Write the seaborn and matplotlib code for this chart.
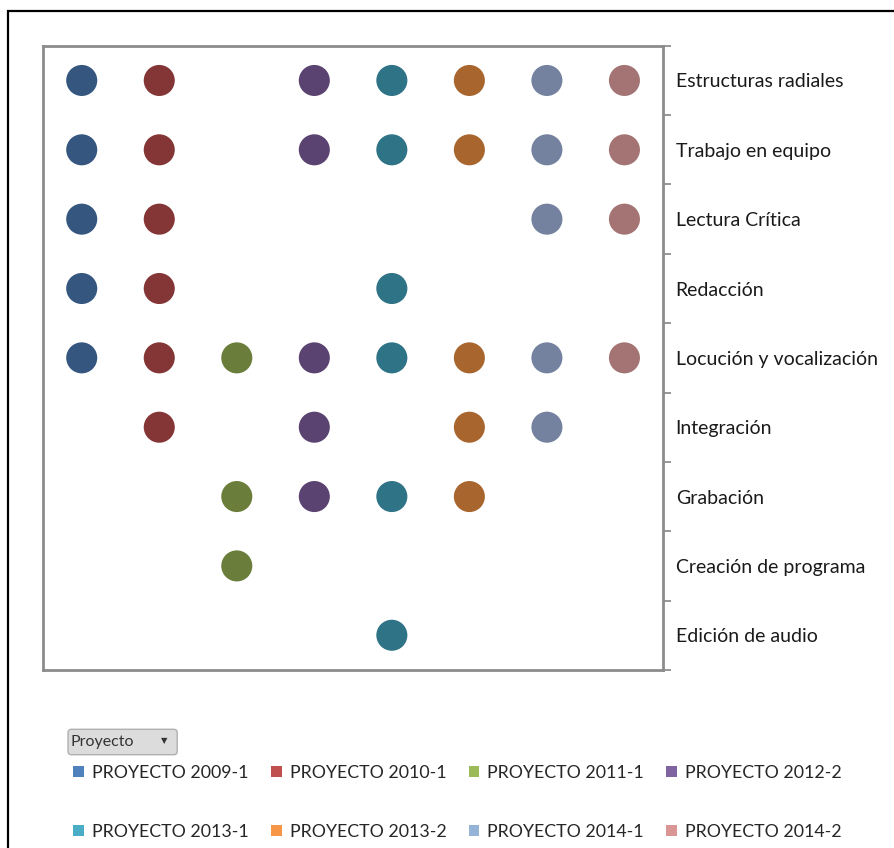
import numpy as np
import pandas as pd
import matplotlib
matplotlib.use('Agg')
import matplotlib.pyplot as plt
import seaborn as sns
from matplotlib.patches import Patch, Rectangle, FancyBboxPatch
from matplotlib.ticker import FixedLocator

# data: which project covers which competence
proyectos = ['PROYECTO 2009-1', 'PROYECTO 2010-1', 'PROYECTO 2011-1', 'PROYECTO 2012-2',
             'PROYECTO 2013-1', 'PROYECTO 2013-2', 'PROYECTO 2014-1', 'PROYECTO 2014-2']
competencias = ['Estructuras radiales', 'Trabajo en equipo', 'Lectura Crítica', 'Redacción',
                'Locución y vocalización', 'Integración', 'Grabación',
                'Creación de programa', 'Edición de audio']
estructuras_radiales = [1, 1, 0, 1, 1, 1, 1, 1]
trabajo_en_equipo = [1, 1, 0, 1, 1, 1, 1, 1]
lectura_critica = [1, 1, 0, 0, 0, 0, 1, 1]
redaccion = [1, 1, 0, 0, 1, 0, 0, 0]
locucion = [1, 1, 1, 1, 1, 1, 1, 1]
integracion = [0, 1, 0, 1, 0, 1, 1, 0]
grabacion = [0, 0, 1, 1, 1, 1, 0, 0]
creacion_programa = [0, 0, 1, 0, 0, 0, 0, 0]
edicion_audio = [0, 0, 0, 0, 1, 0, 0, 0]

matriz = [estructuras_radiales, trabajo_en_equipo, lectura_critica, redaccion, locucion,
          integracion, grabacion, creacion_programa, edicion_audio]

colores_punto = ['#34567f', '#843535', '#6a7d3a', '#5a4370',
                 '#2e7386', '#a8662e', '#7482a0', '#a47474']
colores_leyenda = ['#4f81bd', '#c0504d', '#9bbb59', '#8064a2',
                   '#4bacc6', '#f79646', '#95b3d7', '#d99694']

rows = []
for j, comp in enumerate(competencias):
    for i, p in enumerate(proyectos):
        if matriz[j][i]:
            rows.append({'x': i, 'y': j, 'proyecto': p})
df = pd.DataFrame(rows)

sns.set_style('white')
plt.rcParams['font.family'] = ['Lato', 'DejaVu Sans']

fig = plt.figure(figsize=(8.95, 8.48), dpi=100)
ax = fig.add_axes([0.048, 0.21, 0.693, 0.736])

sns.scatterplot(data=df, x='x', y='y', hue='proyecto', palette=dict(zip(proyectos, colores_punto)),
                s=500, linewidth=0, legend=False, ax=ax)

ax.set_xlim(-0.5, len(proyectos) - 0.5)
ax.set_ylim(len(competencias) - 0.5, -0.5)
ax.set_xticks([])
ax.set_xlabel('')
ax.set_ylabel('')
ax.yaxis.tick_right()
ax.set_yticks(range(len(competencias)))
ax.set_yticklabels(competencias, fontsize=14, color='#1a1a1a')
ax.yaxis.set_minor_locator(FixedLocator(np.arange(-0.5, len(competencias), 1)))
ax.tick_params(axis='y', which='major', length=0, pad=9)
ax.tick_params(axis='y', which='minor', length=6, width=1.2, color='#868686', right=True, left=False)
for s in ax.spines.values():
    s.set_color('#8c8c8c')
    s.set_linewidth(2)

# outer chart border
fig.add_artist(Rectangle((0.009, -0.05), 1.1, 1.037, transform=fig.transFigure,
                         fill=False, edgecolor='black', linewidth=1.6))

# field button
fig.add_artist(FancyBboxPatch((0.076, 0.110), 0.122, 0.030, boxstyle='round,pad=0,rounding_size=0.004',
                              transform=fig.transFigure, facecolor='#dcdcdc', edgecolor='#b0b0b0', linewidth=1))
fig.text(0.079, 0.1245, 'Proyecto', fontsize=11.5, va='center', ha='left', color='#333333')
fig.text(0.183, 0.1265, '▼', fontsize=6, va='center', ha='center', color='#333333', family='DejaVu Sans')

# legend filled row by row (matplotlib fills by column)
orden = [0, 4, 1, 5, 2, 6, 3, 7]
handles = [Patch(facecolor=colores_leyenda[k], edgecolor='none') for k in orden]
labels = [proyectos[k] for k in orden]
fig.legend(handles, labels, loc='upper left', bbox_to_anchor=(0.082, 0.098), ncol=4,
           frameon=False, fontsize=12.8, handlelength=0.6, handleheight=0.6, handletextpad=0.45,
           columnspacing=1.25, labelspacing=2.4, borderaxespad=0, borderpad=0)

fig.savefig('out.png', dpi=100)
